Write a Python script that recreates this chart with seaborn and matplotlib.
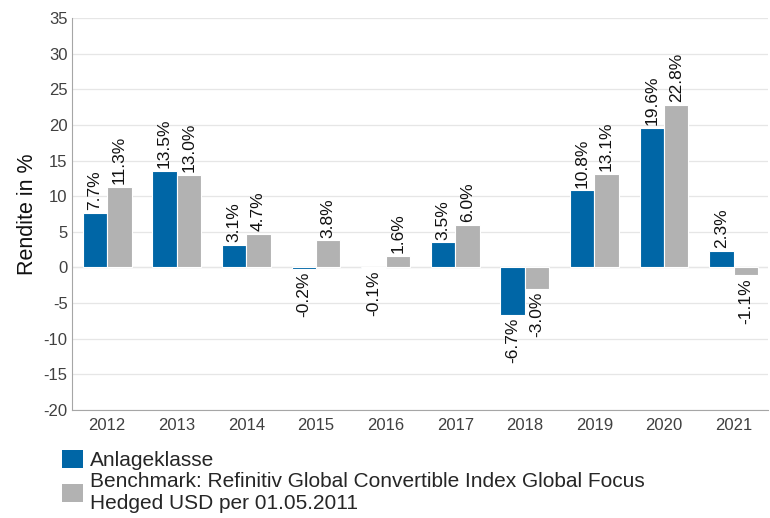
import pandas as pd
import matplotlib.pyplot as plt
import seaborn as sns
from matplotlib.patches import Patch

years = ["2012", "2013", "2014", "2015", "2016", "2017", "2018", "2019", "2020", "2021"]
anlage = [7.7, 13.5, 3.1, -0.2, -0.1, 3.5, -6.7, 10.8, 19.6, 2.3]
benchmark = [11.3, 13.0, 4.7, 3.8, 1.6, 6.0, -3.0, 13.1, 22.8, -1.1]
series_names = ["Anlageklasse",
                "Benchmark: Refinitiv Global Convertible Index Global Focus\nHedged USD per 01.05.2011"]
colors = ["#0066A6", "#B2B2B2"]

df = pd.DataFrame({
    "year": years * 2,
    "value": anlage + benchmark,
    "series": [series_names[0]] * len(years) + [series_names[1]] * len(years),
})

sns.set_style("white")
plt.rcParams["font.family"] = ["Liberation Sans", "DejaVu Sans"]
plt.rcParams["axes.unicode_minus"] = False

fig = plt.figure(figsize=(7.7, 5.18), dpi=100)
ax = fig.add_axes([0.094, 0.209, 0.904, 0.756])

sns.barplot(data=df, x="year", y="value", hue="series", palette=colors,
            saturation=1, width=0.7, edgecolor="white", linewidth=0.8,
            ax=ax, legend=False)

for cont in ax.containers:
    ax.bar_label(cont, labels=[f"{v:.1f}%" for v in cont.datavalues],
                 rotation=90, padding=2, fontsize=12.5, color="#111111")

ax.set_ylim(-20, 35)
ax.set_yticks(range(-20, 36, 5))
ax.set_xlim(-0.5, 9.5)
ax.grid(axis="y", color="#E6E6E6", linewidth=0.9)
ax.set_axisbelow(True)
ax.axhline(0, color="#E0E0E0", linewidth=0.9, zorder=0)
for side in ["top", "right"]:
    ax.spines[side].set_visible(False)
for side in ["left", "bottom"]:
    ax.spines[side].set_color("#A6A6A6")
ax.tick_params(axis="both", length=0, labelsize=12, labelcolor="#404040")
ax.tick_params(axis="x", pad=6)
ax.set_xlabel("")
ax.set_ylabel("Rendite in %", fontsize=15.5, color="#111111")

handles = [Patch(facecolor=c, edgecolor="none") for c in colors]
fig.legend(handles, series_names, loc="upper left", bbox_to_anchor=(0.07, 0.148),
           frameon=False, fontsize=15, handlelength=1.0, handleheight=1.0,
           handletextpad=0.35, labelspacing=0.1, borderaxespad=0)

fig.savefig("out.png", dpi=100)
